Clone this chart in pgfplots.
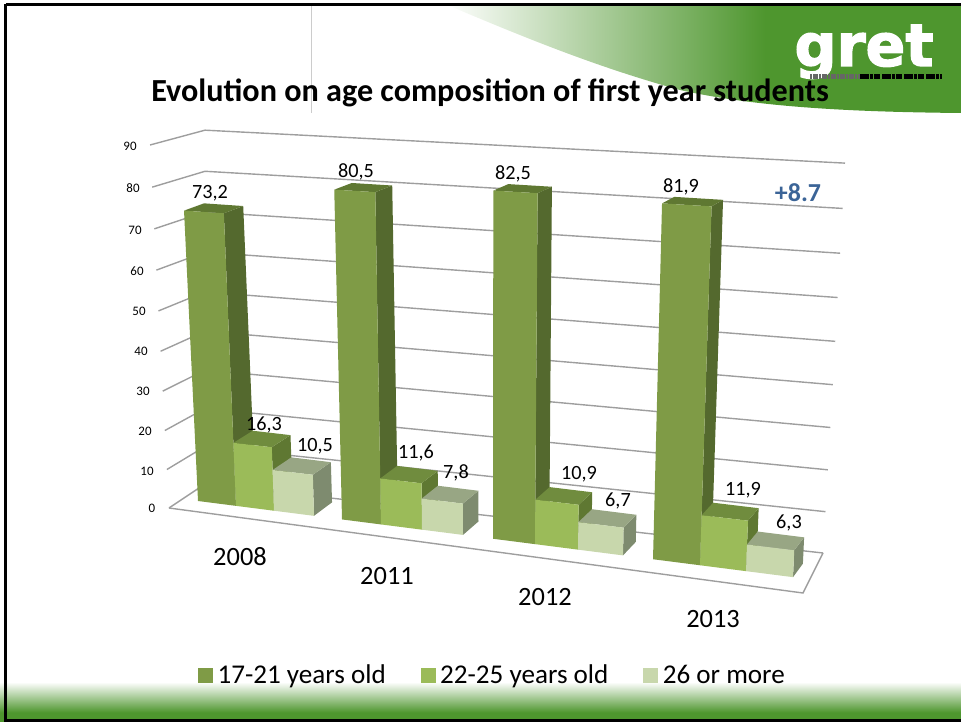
\documentclass[border=0pt]{standalone}
\usepackage{pgfplots}
\pgfplotsset{compat=1.18}
\usepackage{fontspec}
\setmainfont{Carlito}
\newfontfamily\logofont[FakeBold=2.2]{DejaVu Sans Bold}
\definecolor{gr}{RGB}{78,150,46}
\definecolor{gridc}{RGB}{158,158,158}
\definecolor{aF}{RGB}{127,155,70}\definecolor{aS}{RGB}{84,105,46}\definecolor{aT}{RGB}{95,120,50}
\definecolor{bF}{RGB}{155,187,89}\definecolor{bS}{RGB}{95,120,50}\definecolor{bT}{RGB}{112,140,62}
\definecolor{cF}{RGB}{200,215,172}\definecolor{cS}{RGB}{126,139,111}\definecolor{cT}{RGB}{152,166,132}
\definecolor{plus}{RGB}{59,100,151}
\pgfdeclarehorizontalshading{swoosh}{100bp}{color(0bp)=(white);color(25bp)=(white);color(56bp)=(gr);color(100bp)=(gr)}
% one polygon of a bar: rows of (base position, value, depth)
\newcommand{\Face}[2]{\addplot[fill=#1,draw=none,forget plot,no markers] table[row sep=\\,
  x expr={PX(\thisrow{b},\thisrow{v},\thisrow{d})},
  y expr={PY(\thisrow{b},\thisrow{v},\thisrow{d})}]{b v d\\ #2};}
% \Bar{base left}{base right}{value}{colour prefix}
\newcommand{\Bar}[4]{%
  \Face{#4S}{#2 0 0\\ #2 #3 0\\ #2 #3 1\\ #2 0 1\\}
  \Face{#4T}{#1 #3 0\\ #2 #3 0\\ #2 #3 1\\ #1 #3 1\\}
  \Face{#4F}{#1 0 0\\ #2 0 0\\ #2 #3 0\\ #1 #3 0\\}}
\newcommand{\Grid}[1]{\addplot[gridc,line width=1.4bp,forget plot,no markers] table[row sep=\\,
  x expr={\thisrow{a}+\thisrow{s}*#1},
  y expr={\thisrow{c}-\thisrow{k}*vp(#1)}]{a s c k\\ 169 -0.21 508 3.827\\ 205 0 484 3.73\\ 823 0.2444 553 4.11\\};}
\newcommand{\Lab}[3]{\node[font=\fontsize{20.3}{24}\selectfont] at (axis cs:#1,#2) {#3};}
\newcommand{\Year}[3]{\node[font=\fontsize{26.5}{30}\selectfont] at (axis cs:#1,#2) {#3};}
\newcommand{\Tick}[3]{\node[font=\fontsize{13}{15}\selectfont] at (axis cs:#1,#2) {#3};}
\begin{document}
\begin{tikzpicture}
\path[use as bounding box] (0,0) rectangle (961bp,722bp);
\begin{axis}[
  at={(0,0)},anchor=south west,
  scale only axis,width=961bp,height=722bp,
  xmin=0,xmax=961,ymin=0,ymax=722,y dir=reverse,
  hide axis,clip=true,
  declare function={
    vp(\v)=\v*(1+0.0006*\v);
    PX(\b,\v,\d)=\b+(-0.183+0.000633*(\b-198))*vp(\v)+\d*(20-0.017*(\b-198));
    PY(\b,\v,\d)=501+0.128*(\b-198)-(3.80+0.00075*(\b-198))*vp(\v)-\d*(13.5-0.085*\v);
  },
  legend columns=3,
  legend cell align=left,
  legend style={draw=none,fill=none,at={(axis cs:492.5,675)},anchor=center,
    font=\fontsize{27.2}{30}\selectfont,inner sep=0pt,
    /tikz/every even column/.append style={column sep=33bp}},
]
% slide background
\fill[gr] (axis cs:0,712) rectangle (axis cs:961,722);
\shade[top color=white,bottom color=gr] (axis cs:0,682) rectangle (axis cs:961,712.5);
\path[shading=swoosh] (axis cs:445,4) -- (axis cs:961,4) -- (axis cs:961,113)
  .. controls (axis cs:860,112) and (axis cs:760,108) .. (axis cs:680,90)
  .. controls (axis cs:600,68) and (axis cs:530,40) .. (axis cs:445,4) -- cycle;
\draw[black!20,line width=0.8bp] (axis cs:311.5,5) -- (axis cs:311.5,113);
\draw[black,line width=3bp] (axis cs:5.5,4.5) -- (axis cs:970,4.5);
\draw[black,line width=3bp] (axis cs:5.5,4.5) -- (axis cs:5.5,720.5) -- (axis cs:970,720.5);
% logo
\node[font=\logofont\fontsize{59}{60}\selectfont,text=white,anchor=base,inner sep=0pt] at (axis cs:864,66) {gret};
\draw[black!60,line width=5bp,dash pattern=on 2bp off 1bp on 5bp off 1bp] (axis cs:810,76.5) -- (axis cs:860,76.5);
\draw[black,line width=5bp,dash pattern=on 9bp off 1bp on 3bp off 1bp on 6bp off 2bp] (axis cs:860,76.5) -- (axis cs:942,76.5);
% title
\node[font=\bfseries\fontsize{32.3}{36}\selectfont] at (axis cs:490,93) {Evolution on age composition of first year students};
% walls and floor grid
\Grid{90}\Grid{80}\Grid{70}\Grid{60}\Grid{50}\Grid{40}\Grid{30}\Grid{20}\Grid{10}\Grid{0}
\addplot[gridc,line width=1.4bp,forget plot,no markers] coordinates {(169,508) (803,593) (823,553)};
% bars: base position left, right, value, series
\Bar{198}{236}{73.2}{a}\Bar{236}{274}{16.3}{b}\Bar{274}{314}{10.5}{c}
\Bar{342}{381}{80.5}{a}\Bar{381}{422}{11.6}{b}\Bar{422}{463}{7.8}{c}
\Bar{493}{535}{82.5}{a}\Bar{535}{578}{10.9}{b}\Bar{578}{623}{6.7}{c}
\Bar{653}{700}{81.9}{a}\Bar{700}{746}{11.9}{b}\Bar{746}{793}{6.3}{c}
% legend
\addlegendimage{legend image code/.code={\fill[aF] (0pt,-7bp) rectangle (14bp,7bp);\path (17bp,0pt);}}
\addlegendentry{17-21 years old}
\addlegendimage{legend image code/.code={\fill[bF] (0pt,-7bp) rectangle (14bp,7bp);\path (17bp,0pt);}}
\addlegendentry{22-25 years old}
\addlegendimage{legend image code/.code={\fill[cF] (0pt,-7bp) rectangle (14bp,7bp);\path (17bp,0pt);}}
\addlegendentry{26 or more}
% value labels
\Lab{210}{193}{73,2}\Lab{356}{172}{80,5}\Lab{513}{174}{82,5}\Lab{681}{187}{81,9}
\Lab{264}{425}{16,3}\Lab{315}{446}{10,5}\Lab{416}{453}{11,6}\Lab{456}{473}{7,8}
\Lab{579}{474}{10,9}\Lab{618}{501}{6,7}\Lab{743}{490}{11,9}\Lab{789}{523}{6,3}
% category labels
\Year{240}{557}{2008}\Year{387}{576}{2011}\Year{545}{597}{2012}\Year{713}{619}{2013}
% value axis labels
\Tick{130}{146}{90}\Tick{133}{188}{80}\Tick{135}{230}{70}\Tick{137}{271}{60}\Tick{139}{311}{50}
\Tick{141}{351}{40}\Tick{143}{391}{30}\Tick{145}{431}{20}\Tick{147}{471}{10}\Tick{152}{508}{0}
\node[font=\bfseries\fontsize{26}{30}\selectfont,text=plus] at (axis cs:798,193) {+8.7};
\end{axis}
\end{tikzpicture}
\end{document}
